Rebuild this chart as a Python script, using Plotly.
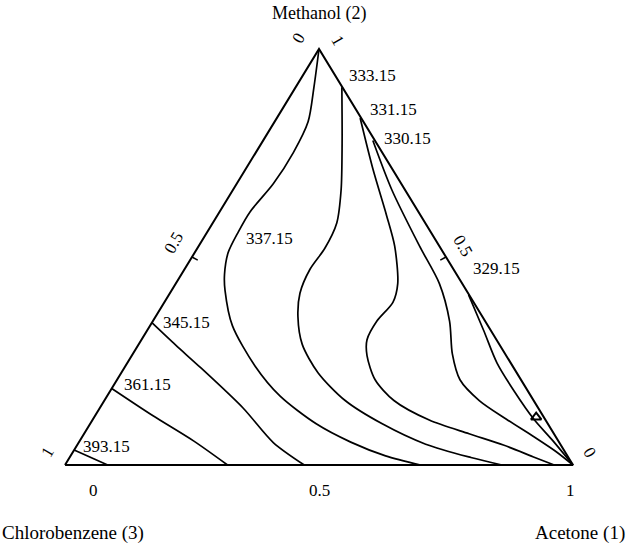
import numpy as np
import plotly.graph_objects as go

# ---- data: isotherms as (acetone x1, methanol x2) mole fractions ----
T_393_x1 = [0.0, 0.042, 0.084]
T_393_x2 = [0.036, 0.018, 0.0]

T_361_x1 = [0.0, 0.113, 0.224, 0.320]
T_361_x2 = [0.184, 0.119, 0.058, 0.0]

T_345_x1 = [0.0, 0.074, 0.150, 0.282, 0.383, 0.471]
T_345_x2 = [0.342, 0.288, 0.234, 0.137, 0.054, 0.0]

T_337_x1 = [0.0, 0.036, 0.066, 0.074, 0.072, 0.060, 0.061, 0.066, 0.085, 0.105,
            0.162, 0.255, 0.340, 0.445, 0.535, 0.620, 0.700]
T_337_x2 = [1.0, 0.908, 0.825, 0.751, 0.676, 0.609, 0.560, 0.510, 0.458, 0.420,
            0.335, 0.238, 0.166, 0.099, 0.055, 0.022, 0.0]

T_333_x1 = [0.091, 0.159, 0.213, 0.244, 0.251, 0.247, 0.256, 0.280, 0.322, 0.387,
            0.474, 0.575, 0.685, 0.790, 0.860]
T_333_x2 = [0.908, 0.773, 0.661, 0.582, 0.521, 0.470, 0.413, 0.357, 0.290, 0.222,
            0.155, 0.099, 0.050, 0.018, 0.0]

T_331_x1 = [0.164, 0.250, 0.333, 0.386, 0.437, 0.450, 0.441, 0.444, 0.463, 0.508,
            0.570, 0.663, 0.758, 0.839, 0.911, 0.963]
T_331_x2 = [0.834, 0.712, 0.600, 0.526, 0.436, 0.391, 0.346, 0.301, 0.263, 0.205,
            0.155, 0.108, 0.075, 0.048, 0.020, 0.0]

T_330_x1 = [0.216, 0.313, 0.435, 0.519, 0.584, 0.629, 0.675, 0.738, 0.814, 0.889,
            0.951, 1.0]
T_330_x2 = [0.780, 0.661, 0.526, 0.436, 0.346, 0.267, 0.205, 0.155, 0.110, 0.068,
            0.032, 0.0]

T_329_x1 = [0.590, 0.662, 0.728, 0.795, 0.868, 0.928, 1.0]
T_329_x2 = [0.409, 0.324, 0.245, 0.178, 0.110, 0.061, 0.0]

# experimental point (triangle)
tri_x1 = [0.870]
tri_x2 = [0.115]

# tick values along the edges
tick_vals = [0, 0.5, 1]
tick_text = ["0", "0.5", "1"]

H = np.sqrt(3) / 2


def xy(x1, x2):
    x1 = np.asarray(x1, float)
    x2 = np.asarray(x2, float)
    return x1 + 0.5 * x2, x2 * H


FONT = "Liberation Serif"
fig = go.Figure()

# triangle frame
fx, fy = xy([0, 1, 0, 0], [0, 0, 1, 0])
fig.add_trace(go.Scatter(x=fx, y=fy, mode="lines",
                         line=dict(color="black", width=2), hoverinfo="skip"))

isotherms = [
    ("393.15", T_393_x1, T_393_x2, 0, 7, 4),
    ("361.15", T_361_x1, T_361_x2, 0, 10, 4),
    ("345.15", T_345_x1, T_345_x2, 0, 9, 0),
    ("337.15", T_337_x1, T_337_x2, 6, 6, -6),
    ("333.15", T_333_x1, T_333_x2, 0, 5, 12),
    ("331.15", T_331_x1, T_331_x2, 0, 8, 9),
    ("330.15", T_330_x1, T_330_x2, 0, 9, 2),
    ("329.15", T_329_x1, T_329_x2, 0, 2, 26),
]

annotations = []
for name, a1, a2, idx, dx, dy in isotherms:
    X, Y = xy(a1, a2)
    fig.add_trace(go.Scatter(x=X, y=Y, mode="lines",
                             line=dict(color="black", width=1.7, shape="spline", smoothing=0.8),
                             hoverinfo="skip"))
    annotations.append(dict(x=X[idx], y=Y[idx], text=name, showarrow=False,
                            xanchor="left", yanchor="middle", xshift=dx, yshift=dy,
                            font=dict(family=FONT, size=17, color="black")))

tx, ty = xy(tri_x1, tri_x2)
fig.add_trace(go.Scatter(x=tx, y=ty, mode="markers",
                         marker=dict(symbol="triangle-up-open", size=9, color="black",
                                     line=dict(width=2, color="black")),
                         hoverinfo="skip"))

# inward ticks at 0.5 on left and right edges
tl = 0.013
for (px1, px2), (nx, ny) in [((0.0, 0.5), (H, -0.5)), ((0.5, 0.5), (-H, -0.5))]:
    X0, Y0 = xy([px1], [px2])
    fig.add_trace(go.Scatter(x=[X0[0], X0[0] + nx * tl], y=[Y0[0], Y0[0] + ny * tl],
                             mode="lines", line=dict(color="black", width=1.5),
                             hoverinfo="skip"))

tf = dict(family=FONT, size=17, color="black")
nf = dict(family=FONT, size=19, color="black")
mf = dict(family=FONT, size=18, color="black")
# bottom axis: acetone fraction
bshift = [28, 0, -3]
for v, t, s in zip(tick_vals, tick_text, bshift):
    X, Y = xy([v], [0])
    annotations.append(dict(x=X[0], y=Y[0], text=t, showarrow=False, xshift=s, yshift=-25,
                            font=tf))
# left edge: chlorobenzene fraction (0 at top, 1 at bottom-left)
lshift = [(-21, 11), (-19, 14), (-18, 13)]
for v, t, (sx, sy) in zip(tick_vals, tick_text, lshift):
    X, Y = xy([0], [1 - v])
    annotations.append(dict(x=X[0], y=Y[0], text=t, showarrow=False, xshift=sx, yshift=sy,
                            textangle=-60, font=tf))
# right edge: methanol fraction (1 at top, 0 at bottom-right)
rshift = [(17, 13), (17, 12), (19, 9)]
for v, t, (sx, sy) in zip(tick_vals, tick_text, rshift):
    X, Y = xy([1 - v], [v])
    annotations.append(dict(x=X[0], y=Y[0], text=t, showarrow=False, xshift=sx, yshift=sy,
                            textangle=60, font=tf))

# component names
X, Y = xy([0], [1])
annotations.append(dict(x=X[0], y=Y[0], text="Methanol (2)", showarrow=False,
                        yshift=36, font=mf))
X, Y = xy([0], [0])
annotations.append(dict(x=X[0], y=Y[0], text="Chlorobenzene (3)", showarrow=False,
                        xshift=8, yshift=-68, font=nf))
X, Y = xy([1], [0])
annotations.append(dict(x=X[0], y=Y[0], text="Acetone (1)", showarrow=False,
                        xanchor="right", xshift=54, yshift=-68, font=nf))

W, HT = 629, 544
x0_px, xs = 65, 508           # left vertex at px 65, 508 px per unit
y0_px, ys = 465, 416 / H      # base at px 465, triangle 416 px tall
fig.update_layout(
    width=W, height=HT, autosize=False,
    margin=dict(l=0, r=0, t=0, b=0),
    paper_bgcolor="white", plot_bgcolor="white",
    showlegend=False,
    xaxis=dict(range=[-x0_px / xs, (W - x0_px) / xs], visible=False, fixedrange=True),
    yaxis=dict(range=[-(HT - y0_px) / ys, y0_px / ys], visible=False, fixedrange=True),
    annotations=annotations,
)

fig.write_html("out.html",
               config={"displayModeBar": False, "staticPlot": True},
               post_script="document.body.style.margin='0px';"
                           "document.body.style.overflow='hidden';")
